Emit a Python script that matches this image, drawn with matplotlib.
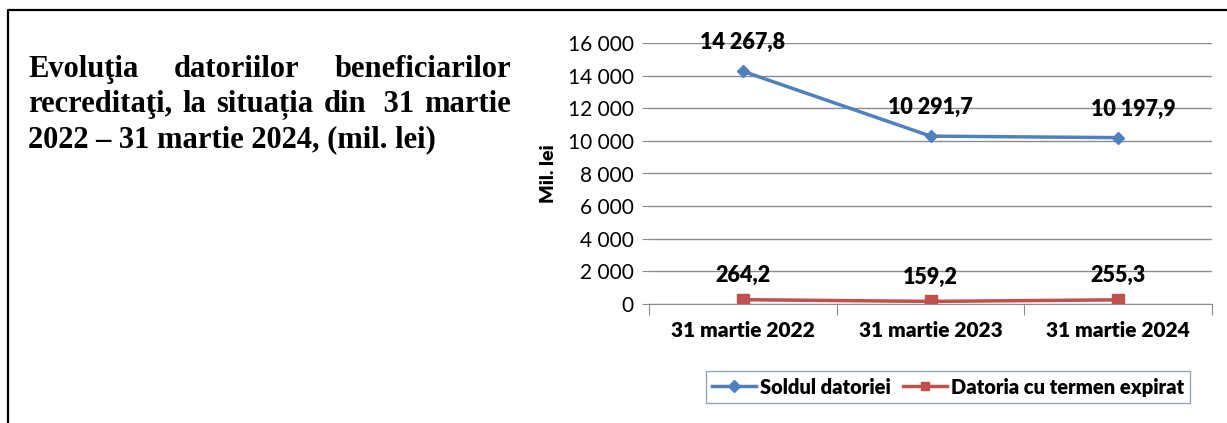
import matplotlib
matplotlib.use('Agg')
import matplotlib.pyplot as plt
from matplotlib.lines import Line2D

plt.rcParams['font.family'] = ['Lato', 'DejaVu Sans']

categories = ['31 martie 2022', '31 martie 2023', '31 martie 2024']
soldul = [14267.8, 10291.7, 10197.9]
expirat = [264.2, 159.2, 255.3]
series_names = ['Soldul datoriei', 'Datoria cu termen expirat']
title_lines = [
    ['Evoluţia', 'datoriilor', 'beneficiarilor'],
    ['recreditaţi,', 'la', 'situația', 'din', ' 31', 'martie'],
]
title_last = '2022 – 31 martie 2024, (mil. lei)'

W, H = 1227, 423
fig = plt.figure(figsize=(W / 100, H / 100), dpi=100)

def fmt(v):
    s = f'{v:,.1f}'
    return s.replace(',', ' ').replace('.', ',')

def fmt_tick(v, pos=None):
    return f'{int(v):,}'.replace(',', ' ')

# page frame (left and top edges only)
fig.add_artist(Line2D([8 / W, 8 / W, 1], [0, 1 - 10 / H, 1 - 10 / H],
                      color='black', lw=1.6, transform=fig.transFigure))

# title, justified like in Word
tfont = dict(family='Liberation Serif', weight='bold', size=22, color='black')
renderer = fig.canvas.get_renderer()
x0, x1 = 28, 511
line_y = [77, 112, 147]
for words, yy in zip(title_lines, line_y):
    texts = [fig.text(0, 1 - yy / H, w, va='baseline', ha='left', **tfont) for w in words]
    widths = [t.get_window_extent(renderer).width for t in texts]
    gap = (x1 - x0 - sum(widths)) / (len(words) - 1)
    x = x0
    for t, w in zip(texts, widths):
        t.set_x(x / W)
        x += w + gap
fig.text(x0 / W, 1 - line_y[2] / H, title_last, va='baseline', ha='left', **tfont)

# chart
ax = fig.add_axes([649 / W, 1 - 304 / H, (1212 - 649) / W, (304 - 43) / H])
x = range(len(categories))
blue, red = '#4F81BD', '#C0504D'
ax.plot(x, soldul, color=blue, lw=2.5, marker='D', ms=6, label=series_names[0])
ax.plot(x, expirat, color=red, lw=2.5, marker='s', ms=8, label=series_names[1])

for i, v in enumerate(soldul):
    dx = 0.08 if i == 2 else 0
    ax.annotate(fmt(v), (i + dx, v), xytext=(0, 13), textcoords='offset points',
                ha='center', va='bottom', fontsize=15.5, fontweight='heavy')
for i, v in enumerate(expirat):
    ax.annotate(fmt(v), (i, v), xytext=(0, 10), textcoords='offset points',
                ha='center', va='bottom', fontsize=15.5, fontweight='heavy')

ax.set_xlim(-0.5, 2.5)
ax.set_ylim(0, 16000)
ax.set_yticks(range(0, 16001, 2000))
ax.yaxis.set_major_formatter(plt.FuncFormatter(fmt_tick))
ax.grid(axis='y', color='#8c8c8c', lw=1)
ax.set_axisbelow(True)
ax.tick_params(axis='y', length=5, color='#8c8c8c', labelsize=15, pad=6)
ax.set_xticks([-0.5, 0.5, 1.5, 2.5])
ax.set_xticklabels([])
ax.tick_params(axis='x', which='major', length=8, color='#8c8c8c')
ax.set_xticks(list(x), minor=True)
ax.set_xticklabels(categories, minor=True, fontsize=15, fontweight='heavy')
ax.tick_params(axis='x', which='minor', length=0, pad=12)
for s in ['top', 'right', 'left']:
    ax.spines[s].set_visible(False)
ax.spines['bottom'].set_color('#8c8c8c')
ax.set_ylabel('Mil. lei', fontsize=14, fontweight='heavy', labelpad=8)

leg = fig.legend(loc='center', bbox_to_anchor=(948 / W, 1 - 387 / H), ncol=2,
                 frameon=True, fancybox=False, edgecolor='#7f8fa6',
                 prop={'weight': 'heavy', 'size': 14.5}, handlelength=2.2,
                 handletextpad=0.2, columnspacing=0.6, borderpad=0.3)
for h in leg.legend_handles:
    h.set_markersize(6)

fig.savefig('out.png', dpi=100)
